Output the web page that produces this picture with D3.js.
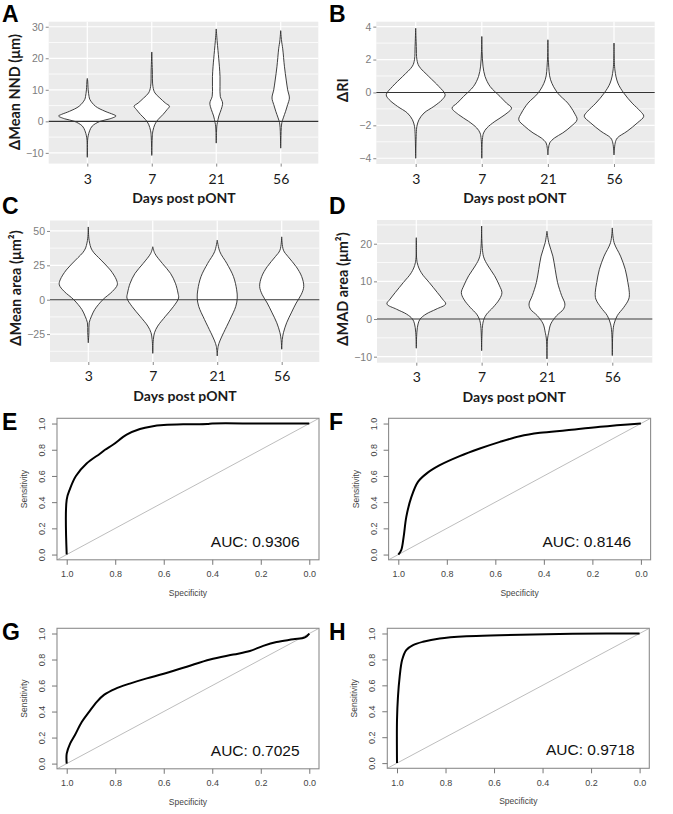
<!DOCTYPE html>
<html><head><meta charset="utf-8">
<script src="https://cdn.jsdelivr.net/npm/d3@7"></script>
<style>body{margin:0;background:#fff}svg{display:block}</style>
</head><body>
<svg id="fig" width="673" height="814"></svg>
<script>
// ---------------- DATA ----------------
const categories = ["3", "7", "21", "56"];

// violin outlines: [value, relative density width (max ~1)]
const nndViolins = [
  [[13.6,0],[13.1,0.01],[10,0.03],[7.9,0.06],[6.9,0.09],[4.8,0.28],[3.2,0.61],[2.2,0.89],[1.7,0.99],[0.8,0.78],[0,0.44],[-1.5,0.17],[-3,0.08],[-4.6,0.03],[-6,0.01],[-11.4,0]],
  [[22,0],[16.3,0.02],[11,0.04],[9,0.11],[7.4,0.28],[5.8,0.47],[4.8,0.61],[3.75,0.53],[2.2,0.39],[0.6,0.22],[-0.9,0.11],[-3,0.04],[-4.6,0.02],[-10.8,0]],
  [[29.3,0],[25.6,0.03],[22.5,0.06],[17.3,0.11],[14.2,0.13],[11,0.13],[7.9,0.14],[5.8,0.22],[3.75,0.17],[1.7,0.09],[-0.4,0.04],[-1.5,0.02],[-3.5,0.01],[-6.9,0]],
  [[28.75,0],[25.5,0.03],[23,0.07],[17.3,0.13],[13.1,0.19],[10,0.24],[7.4,0.3],[5.3,0.24],[3.2,0.17],[1.1,0.09],[-0.4,0.04],[-2,0.02],[-4.5,0.01],[-8.5,0]]
];
const riViolins = [
  [[3.9,0],[2.8,0.02],[2,0.04],[1.6,0.11],[0.97,0.44],[0.36,0.78],[-0.14,0.99],[-0.44,0.89],[-0.85,0.61],[-1.25,0.28],[-1.66,0.11],[-2.06,0.04],[-2.5,0.02],[-4,0]],
  [[3.4,0],[2.5,0.01],[1.6,0.04],[0.97,0.11],[0.36,0.28],[-0.24,0.61],[-0.65,0.83],[-0.95,1.0],[-1.35,0.78],[-1.76,0.44],[-2.16,0.17],[-2.46,0.06],[-2.85,0.02],[-4,0]],
  [[3.2,0],[1.8,0.02],[0.77,0.09],[-0.04,0.33],[-0.65,0.67],[-1.25,0.89],[-1.66,0.98],[-2.06,0.78],[-2.46,0.5],[-2.77,0.22],[-3.07,0.06],[-3.4,0.02],[-3.8,0]],
  [[3,0],[1.37,0.03],[0.57,0.13],[-0.04,0.33],[-0.65,0.61],[-1.15,0.89],[-1.45,1.0],[-1.86,0.78],[-2.36,0.44],[-2.77,0.11],[-3.07,0.04],[-3.8,0]]
];
const areaViolins = [
  [[52.9,0],[43,0.03],[36,0.13],[28.8,0.44],[21.6,0.76],[14.4,0.97],[10.8,1.0],[6,0.83],[0,0.5],[-7.2,0.22],[-12,0.11],[-16.8,0.03],[-24,0.02],[-31.3,0]],
  [[38.5,0],[33.7,0.07],[26.4,0.33],[19.2,0.61],[12,0.78],[4.8,0.87],[1.2,0.89],[-4.8,0.72],[-12,0.44],[-19.2,0.17],[-24,0.06],[-29,0.02],[-39,0]],
  [[43.3,0],[34.9,0.09],[26.4,0.33],[16.8,0.56],[7.2,0.67],[1.2,0.69],[-4.8,0.64],[-14.4,0.44],[-24,0.22],[-30,0.09],[-34,0.03],[-40.9,0]],
  [[45.7,0],[36,0.06],[31.3,0.22],[24,0.5],[16.8,0.69],[9.6,0.76],[3.6,0.67],[-2.4,0.5],[-9.6,0.33],[-16.8,0.17],[-24,0.06],[-29,0.02],[-36,0]]
];
const madViolins = [
  [[21.6,0],[15,0.03],[12.3,0.17],[9.7,0.44],[7,0.72],[5.3,0.89],[4,1.0],[2.6,0.67],[1.3,0.33],[0,0.13],[-1.3,0.06],[-3.5,0.02],[-7.75,0]],
  [[24.7,0],[16.7,0.06],[14.1,0.22],[11.5,0.44],[8.8,0.61],[7,0.69],[5.3,0.61],[3.1,0.39],[1.3,0.17],[0,0.08],[-1.8,0.03],[-8.4,0]],
  [[23.3,0],[20.3,0.06],[16.7,0.2],[13.2,0.28],[9.7,0.36],[6.2,0.5],[4,0.61],[2.6,0.56],[0.9,0.33],[-1.3,0.13],[-3.5,0.06],[-5.3,0.02],[-10.6,0]],
  [[24.2,0],[20.3,0.06],[16.7,0.28],[13.2,0.44],[9.7,0.53],[7,0.58],[5.3,0.56],[3.1,0.39],[0.9,0.17],[-1.3,0.06],[-3.5,0.02],[-9.7,0]]
];

const nndTicks = [-10, 0, 10, 20, 30];
const riTicks = [-4, -2, 0, 2, 4];
const areaTicks = [-25, 0, 25, 50];
const madTicks = [-10, 0, 10, 20];

const nndDomain = [-13.4, 31.6];
const riDomain = [-4.35, 4.3];
const areaDomain = [-45.3, 57.6];
const madDomain = [-11.6, 26.3];

// ROC curves: [specificity, sensitivity]
const rocE = [[1,0],[1,0.42],[0.986,0.504],[0.962,0.6],[0.918,0.695],[0.863,0.77],[0.842,0.8],[0.808,0.84],[0.753,0.915],[0.698,0.958],[0.65,0.978],[0.6,0.988],[0.52,0.994],[0.42,0.996],[0.4,1],[0.2,1],[0,1]];
const rocF = [[1,0],[0.988,0.033],[0.978,0.135],[0.967,0.288],[0.946,0.44],[0.919,0.555],[0.884,0.618],[0.829,0.682],[0.747,0.751],[0.664,0.809],[0.581,0.86],[0.499,0.903],[0.416,0.929],[0.306,0.949],[0.168,0.975],[0,1]];
const rocG = [[1,0],[1,0.077],[0.986,0.154],[0.966,0.22],[0.938,0.32],[0.907,0.4],[0.876,0.475],[0.845,0.53],[0.8,0.575],[0.74,0.615],[0.67,0.655],[0.6,0.69],[0.505,0.745],[0.409,0.8],[0.313,0.838],[0.245,0.865],[0.19,0.905],[0.135,0.935],[0.066,0.955],[0.018,0.97],[0,1]];
const rocH = [[1,0],[1,0.333],[0.996,0.513],[0.989,0.667],[0.979,0.795],[0.962,0.872],[0.934,0.91],[0.893,0.936],[0.824,0.962],[0.714,0.979],[0.577,0.987],[0.385,0.995],[0.137,1],[0,1]];
const aucLabels = ["AUC: 0.9306", "AUC: 0.8146", "AUC: 0.7025", "AUC: 0.9718"];
const rocTicks = [0, 0.2, 0.4, 0.6, 0.8, 1.0];

// ---------------- DRAWING ----------------
const svg = d3.select("#fig");
const TITLE_FONT = "Lato, 'Open Sans', sans-serif";
const ARIAL = "'Liberation Sans', Arial, sans-serif";

function letter(x, y, t) {
  svg.append("text").attr("x", x).attr("y", y).text(t)
    .attr("font-family", ARIAL).attr("font-weight", "bold").attr("font-size", 23).attr("fill", "#000");
}

function violinPanel(o) {
  const g = svg.append("g");
  const x = d3.scalePoint().domain(categories).range([o.c0, o.c1]);
  const y = d3.scaleLinear().domain(o.domain).range([o.bottom, o.top]);
  const step = x.step();
  const w = d3.scaleLinear().domain([0, 1]).range([0, step * 0.45]);
  g.append("rect").attr("x", o.left).attr("y", o.top).attr("width", o.right - o.left).attr("height", o.bottom - o.top).attr("fill", "#ebebeb");
  // minor gridlines
  const major = o.ticks;
  const minor = [];
  const st = major[1] - major[0];
  for (let v = major[0] - st / 2; v <= o.domain[1]; v += st) if (v >= o.domain[0]) minor.push(v);
  g.selectAll(".mn").data(minor).join("line").attr("x1", o.left).attr("x2", o.right)
    .attr("y1", d => y(d)).attr("y2", d => y(d)).attr("stroke", "#fff").attr("stroke-width", 0.75);
  g.selectAll(".mj").data(major).join("line").attr("x1", o.left).attr("x2", o.right)
    .attr("y1", d => y(d)).attr("y2", d => y(d)).attr("stroke", "#fff").attr("stroke-width", 1.2);
  g.selectAll(".vx").data(categories).join("line").attr("y1", o.top).attr("y2", o.bottom)
    .attr("x1", d => x(d)).attr("x2", d => x(d)).attr("stroke", "#fff").attr("stroke-width", 1.2);
  // violins
  const area = d3.area().curve(d3.curveCatmullRom.alpha(0.5)).y(d => y(d[0]));
  o.data.forEach((vd, i) => {
    const cx = x(categories[i]);
    g.append("path").datum(vd)
      .attr("d", area.x0(d => cx - w(d[1])).x1(d => cx + w(d[1])))
      .attr("fill", "#fff").attr("stroke", "#2a2a2a").attr("stroke-width", 0.9);
  });
  // zero line
  g.append("line").attr("x1", o.left).attr("x2", o.right).attr("y1", y(0)).attr("y2", y(0))
    .attr("stroke", "#333").attr("stroke-width", 1.1);
  // y axis
  const ya = g.append("g").attr("transform", `translate(${o.left},0)`)
    .call(d3.axisLeft(y).tickValues(major).tickSize(3).tickPadding(2).tickFormat(d3.format("d")));
  ya.select(".domain").remove();
  ya.selectAll("line").attr("stroke", "#888");
  ya.selectAll("text").attr("font-family", ARIAL).attr("font-size", 10.5).attr("fill", "#7d7d7d");
  // x axis
  const xa = g.append("g").attr("transform", `translate(0,${o.bottom})`)
    .call(d3.axisBottom(x).tickSize(3).tickPadding(6));
  xa.select(".domain").remove();
  xa.selectAll("line").attr("stroke", "#888");
  xa.selectAll("text").attr("font-family", TITLE_FONT).attr("font-size", 14).attr("fill", "#1a1a1a")
    .attr("y", o.xLabY - o.bottom).attr("dy", "0.35em");
  g.append("text").attr("x", (o.c0 + o.c1) / 2).attr("y", o.xTitleY).attr("text-anchor", "middle")
    .attr("dominant-baseline", "central")
    .attr("font-family", TITLE_FONT).attr("font-weight", "bold").attr("font-size", 14).attr("fill", "#1a1a1a")
    .text("Days post pONT");
  g.append("text").attr("transform", `translate(${o.yTitleX},${o.yTitleY}) rotate(-90)`)
    .attr("text-anchor", "middle").attr("dominant-baseline", "central")
    .attr("font-family", TITLE_FONT).attr("font-weight", "bold").attr("font-size", 14.5).attr("fill", "#1a1a1a")
    .text(o.ytitle);
}

violinPanel({left: 48.7, right: 318.3, top: 21.7, bottom: 163.6, c0: 87.3, c1: 280.7,
  domain: nndDomain, ticks: nndTicks, data: nndViolins, ytitle: "\u0394Mean NND (\u03bcm)",
  yTitleX: 14, yTitleY: 92, xLabY: 179, xTitleY: 197});
violinPanel({left: 376.3, right: 654.7, top: 21.7, bottom: 164, c0: 415.7, c1: 614,
  domain: riDomain, ticks: riTicks, data: riViolins, ytitle: "\u0394RI",
  yTitleX: 342, yTitleY: 90, xLabY: 179, xTitleY: 197});
violinPanel({left: 50, right: 319.3, top: 220.5, bottom: 362, c0: 88.3, c1: 281.7,
  domain: areaDomain, ticks: areaTicks, data: areaViolins, ytitle: "\u0394Mean area (\u03bcm\u00b2)",
  yTitleX: 15, yTitleY: 288, xLabY: 376, xTitleY: 395});
violinPanel({left: 377, right: 652.3, top: 220, bottom: 362.7, c0: 416.3, c1: 612.3,
  domain: madDomain, ticks: madTicks, data: madViolins, ytitle: "\u0394MAD area (\u03bcm\u00b2)",
  yTitleX: 342, yTitleY: 289, xLabY: 377, xTitleY: 396});

function rocPanel(o) {
  const g = svg.append("g");
  const x = d3.scaleLinear().domain([1.04, -0.04]).range([o.left, o.left + o.w]);
  const y = d3.scaleLinear().domain([-0.04, 1.04]).range([o.top + o.h, o.top]);
  const clipId = "clip" + o.id;
  svg.append("clipPath").attr("id", clipId).append("rect")
    .attr("x", o.left).attr("y", o.top).attr("width", o.w).attr("height", o.h);
  // diagonal
  g.append("line").attr("clip-path", `url(#${clipId})`)
    .attr("x1", x(1.04)).attr("y1", y(-0.04)).attr("x2", x(-0.04)).attr("y2", y(1.04))
    .attr("stroke", "#b5b5b5").attr("stroke-width", 0.9);
  // curve
  g.append("path").datum(o.data)
    .attr("d", d3.line().curve(d3.curveCatmullRom.alpha(0.5)).x(d => x(d[0])).y(d => y(d[1])))
    .attr("fill", "none").attr("stroke", "#000").attr("stroke-width", 2);
  // box
  g.append("rect").attr("x", o.left).attr("y", o.top).attr("width", o.w).attr("height", o.h)
    .attr("fill", "none").attr("stroke", "#8c8c8c").attr("stroke-width", 1.1);
  // axes
  const xa = g.append("g").attr("transform", `translate(0,${o.top + o.h})`)
    .call(d3.axisBottom(x).tickValues(rocTicks).tickSize(5).tickPadding(6).tickFormat(d3.format(".1f")));
  xa.select(".domain").remove();
  xa.selectAll("line").attr("stroke", "#777");
  xa.selectAll("text").attr("font-family", ARIAL).attr("font-size", 9).attr("fill", "#444");
  const ya = g.append("g").attr("transform", `translate(${o.left},0)`)
    .call(d3.axisLeft(y).tickValues(rocTicks).tickSize(5).tickFormat(d3.format(".1f")));
  ya.select(".domain").remove();
  ya.selectAll("line").attr("stroke", "#777");
  ya.selectAll("text").attr("font-family", ARIAL).attr("font-size", 9).attr("fill", "#444")
    .attr("text-anchor", "middle").attr("x", null).attr("dy", null)
    .attr("transform", "translate(-12,0) rotate(-90)");
  g.append("text").attr("transform", `translate(${o.left - 30},${o.top + o.h / 2}) rotate(-90)`)
    .attr("text-anchor", "middle").attr("font-family", ARIAL).attr("font-size", 8.5).attr("fill", "#444")
    .text("Sensitivity");
  g.append("text").attr("x", o.left + o.w / 2).attr("y", o.top + o.h + 36)
    .attr("text-anchor", "middle").attr("font-family", ARIAL).attr("font-size", 8.5).attr("fill", "#444")
    .text("Specificity");
  g.append("text").attr("x", x(o.aucX)).attr("y", y(o.aucY)).attr("text-anchor", "end")
    .attr("font-family", ARIAL).attr("font-size", 15.5).attr("fill", "#111")
    .text(o.auc);
}

rocPanel({id: "E", left: 57, top: 418.3, w: 262, h: 141.5, data: rocE, auc: aucLabels[0], aucX: 0.04, aucY: 0.055});
rocPanel({id: "F", left: 388.6, top: 418.3, w: 262, h: 141.5, data: rocF, auc: aucLabels[1], aucX: 0.04, aucY: 0.06});
rocPanel({id: "G", left: 57, top: 628.3, w: 262, h: 140.5, data: rocG, auc: aucLabels[2], aucX: 0.04, aucY: 0.06});
rocPanel({id: "H", left: 387.3, top: 628.3, w: 262, h: 140, data: rocH, auc: aucLabels[3], aucX: 0.02, aucY: 0.06});

letter(2, 22, "A"); letter(329, 22, "B");
letter(2, 214, "C"); letter(329, 214, "D");
letter(2, 430, "E"); letter(329, 430, "F");
letter(2, 640, "G"); letter(329, 640, "H");
</script>
</body></html>
